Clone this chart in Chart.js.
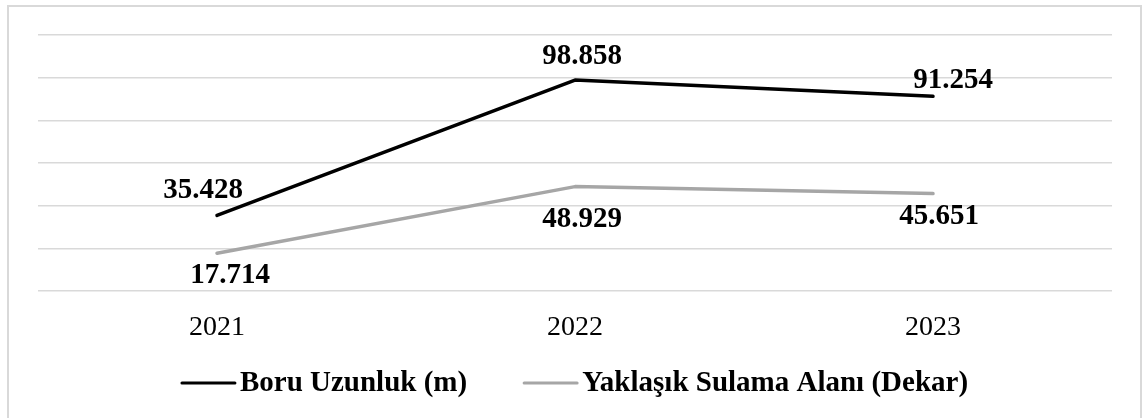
<!DOCTYPE html>
<html>
<head>
<meta charset="utf-8">
<script src="https://cdn.jsdelivr.net/npm/chart.js@4/dist/chart.umd.min.js"></script>
<style>
  html, body { margin: 0; padding: 0; background: #ffffff; }
  #wrap { width: 1142px; height: 418px; }
</style>
</head>
<body>
<div id="wrap"><canvas id="c" width="1142" height="418"></canvas></div>
<script>
const categories = ['2021', '2022', '2023'];
const seriesNames = ['Boru Uzunluk (m)', 'Yaklaşık Sulama Alanı (Dekar)'];
const boruUzunluk = [35428, 98858, 91254];
const sulamaAlani = [17714, 48929, 45651];
const yTicks = [0, 20000, 40000, 60000, 80000, 100000, 120000];

function fmt(v) {
  return String(v).replace(/\B(?=(\d{3})+(?!\d))/g, '.');
}

const labelOffsets = [
  [[-14, -25], [7, -24], [20, -16]],
  [[13, 22], [7, 33], [6, 23]]
];

const labelPlugin = {
  id: 'valueLabels',
  afterDatasetsDraw(chart) {
    const ctx = chart.ctx;
    ctx.save();
    ctx.font = 'bold 29px "Liberation Serif", "Times New Roman", serif';
    ctx.fillStyle = '#000000';
    ctx.textAlign = 'center';
    ctx.textBaseline = 'middle';
    chart.data.datasets.forEach((ds, di) => {
      const meta = chart.getDatasetMeta(di);
      meta.data.forEach((pt, i) => {
        const o = labelOffsets[di][i];
        ctx.fillText(fmt(ds.data[i]), pt.x + o[0], pt.y + o[1]);
      });
    });
    ctx.restore();
  }
};

const framePlugin = {
  id: 'frame',
  beforeDraw(chart) {
    const ctx = chart.ctx;
    ctx.save();
    ctx.fillStyle = '#ffffff';
    ctx.fillRect(0, 0, chart.width, chart.height);
    ctx.strokeStyle = '#d9d9d9';
    ctx.lineWidth = 2;
    ctx.strokeRect(8, 6, 1133, 430);
    ctx.restore();
  }
};

const legendPlugin = {
  id: 'customLegend',
  afterDraw(chart) {
    const ctx = chart.ctx;
    const ca = chart.chartArea;
    ctx.save();
    ctx.font = 'bold 29px "Liberation Serif", "Times New Roman", serif';
    ctx.textBaseline = 'middle';
    ctx.textAlign = 'left';
    const lineLen = 53, gapText = 5, gapItem = 57;
    const items = chart.data.datasets.map(ds => ({ text: ds.label, color: ds.borderColor, w: ctx.measureText(ds.label).width }));
    let total = 0;
    items.forEach((it, i) => { total += lineLen + gapText + it.w + (i < items.length - 1 ? gapItem : 0); });
    let x = (ca.left + ca.right) / 2 - total / 2;
    const y = 383;
    items.forEach(it => {
      ctx.strokeStyle = it.color;
      ctx.lineWidth = 3;
      ctx.lineCap = 'round';
      ctx.beginPath();
      ctx.moveTo(x, y);
      ctx.lineTo(x + lineLen, y);
      ctx.stroke();
      x += lineLen + gapText;
      ctx.fillStyle = '#000000';
      ctx.fillText(it.text, x, y + 1);
      x += it.w + gapItem;
    });
    ctx.restore();
  }
};

new Chart(document.getElementById('c'), {
  type: 'line',
  data: {
    labels: categories,
    datasets: [
      { label: seriesNames[0], data: boruUzunluk, borderColor: '#000000', backgroundColor: '#000000', borderWidth: 3.5, pointRadius: 0, tension: 0, borderCapStyle: 'round', borderJoinStyle: 'round' },
      { label: seriesNames[1], data: sulamaAlani, borderColor: '#a6a6a6', backgroundColor: '#a6a6a6', borderWidth: 3.5, pointRadius: 0, tension: 0, borderCapStyle: 'round', borderJoinStyle: 'round' }
    ]
  },
  options: {
    responsive: false,
    animation: false,
    layout: { padding: { left: 38, right: 30, top: 35, bottom: 0 } },
    plugins: { legend: { display: false }, tooltip: { enabled: false } },
    scales: {
      x: {
        offset: true,
        grid: { display: false },
        border: { display: false },
        ticks: { color: '#000000', padding: 12, font: { family: '"Liberation Serif", "Times New Roman", serif', size: 28 } },
        afterFit(scale) { scale.height = 127; }
      },
      y: {
        min: 0,
        max: 120000,
        afterBuildTicks(scale) { scale.ticks = yTicks.map(v => ({ value: v })); },
        ticks: { display: false },
        grid: { color: '#d9d9d9', lineWidth: 1.5, drawTicks: false },
        border: { display: false },
        afterFit(scale) { scale.width = 0; }
      }
    }
  },
  plugins: [framePlugin, labelPlugin, legendPlugin]
});
</script>
</body>
</html>
